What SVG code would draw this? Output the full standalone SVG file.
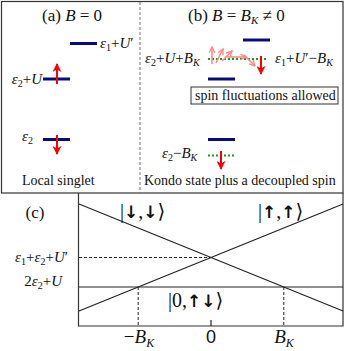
<svg xmlns="http://www.w3.org/2000/svg" width="346" height="351" viewBox="0 0 346 351">
<style>
.frame{fill:none;stroke:#333;stroke-width:1.2}
.t{font-family:"Liberation Serif","DejaVu Serif",serif;fill:#111}
.ar{font-family:"DejaVu Sans",sans-serif;font-weight:bold}
.lv{stroke:#0a0a80;stroke-width:3}
.gd{stroke:#1a9a1a;stroke-width:2;stroke-dasharray:2,2}
.ra{stroke:#ff0000;stroke-width:2;fill:none}
.pa{stroke:#ff8a8a;stroke-width:1.6;fill:none}
.ln{stroke:#222;stroke-width:1.2;fill:none}
.dl{stroke:#222;stroke-width:1;stroke-dasharray:3,2;fill:none}
</style>
<defs>
<marker id="rh" viewBox="0 0 10 10" refX="9" refY="5" markerWidth="9" markerHeight="9" markerUnits="userSpaceOnUse" orient="auto">
<path d="M0,0 L10,5 L0,10 L3,5 z" fill="#ff0000"/>
</marker>
<marker id="ph" viewBox="0 0 10 10" refX="9" refY="5" markerWidth="7" markerHeight="7" markerUnits="userSpaceOnUse" orient="auto">
<path d="M1,1 L9,5 L1,9" fill="none" stroke="#ff8a8a" stroke-width="2"/>
</marker>
</defs>

<g id="frames">
<rect class="frame" x="1.5" y="1.5" width="341.5" height="191.5"/>
<line x1="140" y1="2" x2="140" y2="193" stroke="#777" stroke-width="1" stroke-dasharray="3,2"/>
<polyline class="frame" points="78.5,193 78.5,326 343,326 343,193"/>
</g>

<g id="panel-a">
<text class="t" x="42" y="21" font-size="17">(a) <tspan font-style="italic">B</tspan> = 0</text>
<g id="a-level-e1U">
<line class="lv" x1="70" y1="43.5" x2="97" y2="43.5"/>
<text class="t" x="100" y="48" font-size="15"><tspan font-style="italic">ε</tspan><tspan font-size="10" dy="3">1</tspan><tspan dy="-3">+</tspan><tspan font-style="italic">U</tspan>′</text>
</g>
<g id="a-level-e2U">
<line class="lv" x1="43" y1="79" x2="70" y2="79"/>
<line class="ra" x1="57" y1="84" x2="57" y2="64" marker-end="url(#rh)"/>
<text class="t" x="42" y="84" font-size="15" text-anchor="end"><tspan font-style="italic">ε</tspan><tspan font-size="10" dy="3">2</tspan><tspan dy="-3">+</tspan><tspan font-style="italic">U</tspan></text>
</g>
<g id="a-level-e2">
<line class="lv" x1="43" y1="139.5" x2="70" y2="139.5"/>
<line class="ra" x1="57" y1="135" x2="57" y2="154" marker-end="url(#rh)"/>
<text class="t" x="22" y="141" font-size="15"><tspan font-style="italic">ε</tspan><tspan font-size="10" dy="3">2</tspan></text>
</g>
<text class="t" x="22" y="185" font-size="14">Local singlet</text>
</g>

<g id="panel-b">
<text class="t" x="188" y="21" font-size="17">(b) <tspan font-style="italic">B</tspan> = <tspan font-style="italic">B</tspan><tspan font-size="11" font-style="italic" dy="3">K</tspan><tspan dy="-3"> ≠ 0</tspan></text>
<g id="b-upper">
<line class="lv" x1="243" y1="40" x2="270" y2="40"/>
<line class="gd" x1="208" y1="59" x2="268" y2="59"/>
<line class="lv" x1="208" y1="79" x2="235" y2="79"/>
<line class="pa" x1="212" y1="64" x2="212" y2="47" marker-end="url(#ph)"/>
<line class="pa" x1="216" y1="63" x2="223" y2="49" marker-end="url(#ph)"/>
<line class="pa" x1="222" y1="61" x2="232" y2="51" marker-end="url(#ph)"/>
<line class="pa" x1="227" y1="57" x2="246" y2="57" marker-end="url(#ph)"/>
<line class="pa" x1="244" y1="55" x2="255" y2="66" marker-end="url(#ph)"/>
<line class="ra" x1="261" y1="56" x2="261" y2="74" marker-end="url(#rh)"/>
<text class="t" x="145" y="63" font-size="15"><tspan font-style="italic">ε</tspan><tspan font-size="10" dy="3">2</tspan><tspan dy="-3">+</tspan><tspan font-style="italic">U</tspan>+<tspan font-style="italic">B</tspan><tspan font-size="10" font-style="italic" dy="3">K</tspan></text>
<text class="t" x="275" y="63" font-size="15"><tspan font-style="italic">ε</tspan><tspan font-size="10" dy="3">1</tspan><tspan dy="-3">+</tspan><tspan font-style="italic">U</tspan>′−<tspan font-style="italic">B</tspan><tspan font-size="10" font-style="italic" dy="3">K</tspan></text>
</g>
<g id="b-box">
<rect x="191" y="87" width="147" height="17" fill="#fff" stroke="#333" stroke-width="1"/>
<text class="t" x="195" y="100" font-size="14">spin fluctuations allowed</text>
</g>
<g id="b-lower">
<line class="lv" x1="208" y1="139.5" x2="235" y2="139.5"/>
<line class="gd" x1="208" y1="155.5" x2="236" y2="155.5"/>
<line class="ra" x1="221" y1="151" x2="221" y2="169" marker-end="url(#rh)"/>
<text class="t" x="162" y="158" font-size="15"><tspan font-style="italic">ε</tspan><tspan font-size="10" dy="3">2</tspan><tspan dy="-3">−</tspan><tspan font-style="italic">B</tspan><tspan font-size="10" font-style="italic" dy="3">K</tspan></text>
</g>
<text class="t" x="144" y="185" font-size="14">Kondo state plus a decoupled spin</text>
</g>

<g id="panel-c">
<text class="t" x="35" y="218" font-size="17" text-anchor="middle">(c)</text>
<g id="connectors">
<line class="ln" x1="79" y1="204" x2="343" y2="311"/>
<line class="ln" x1="79" y1="311" x2="343" y2="204"/>
<line class="ln" x1="79" y1="287" x2="343" y2="287"/>
<line class="dl" x1="79" y1="257.5" x2="211" y2="257.5"/>
<line class="dl" x1="138.2" y1="287" x2="138.2" y2="326"/>
<line class="dl" x1="283.8" y1="287" x2="283.8" y2="326"/>
<line class="ln" x1="211" y1="320" x2="211" y2="326"/>
</g>
<text class="t" x="120" y="218" font-size="20">|<tspan class="ar" font-size="17">↓</tspan>,<tspan class="ar" font-size="17">↓</tspan>⟩</text>
<text class="t" x="258" y="218" font-size="20">|<tspan class="ar" font-size="17">↑</tspan>,<tspan class="ar" font-size="17">↑</tspan>⟩</text>
<text class="t" x="168" y="307" font-size="20">|0,<tspan class="ar" font-size="17">↑↓</tspan>⟩</text>
<text class="t" x="68" y="262" font-size="15" text-anchor="end"><tspan font-style="italic">ε</tspan><tspan font-size="10" dy="3">1</tspan><tspan dy="-3">+</tspan><tspan font-style="italic">ε</tspan><tspan font-size="10" dy="3">2</tspan><tspan dy="-3">+</tspan><tspan font-style="italic">U</tspan>′</text>
<text class="t" x="62" y="286" font-size="15" text-anchor="end">2<tspan font-style="italic">ε</tspan><tspan font-size="10" dy="3">2</tspan><tspan dy="-3">+</tspan><tspan font-style="italic">U</tspan></text>
<text class="t" x="139" y="343" font-size="19" text-anchor="middle">−<tspan font-style="italic">B</tspan><tspan font-size="12" font-style="italic" dy="4">K</tspan></text>
<text x="211" y="343" font-size="18" text-anchor="middle" font-family="Liberation Sans, sans-serif" fill="#111">0</text>
<text class="t" x="284" y="343" font-size="19" text-anchor="middle"><tspan font-style="italic">B</tspan><tspan font-size="12" font-style="italic" dy="4">K</tspan></text>
</g>
</svg>
